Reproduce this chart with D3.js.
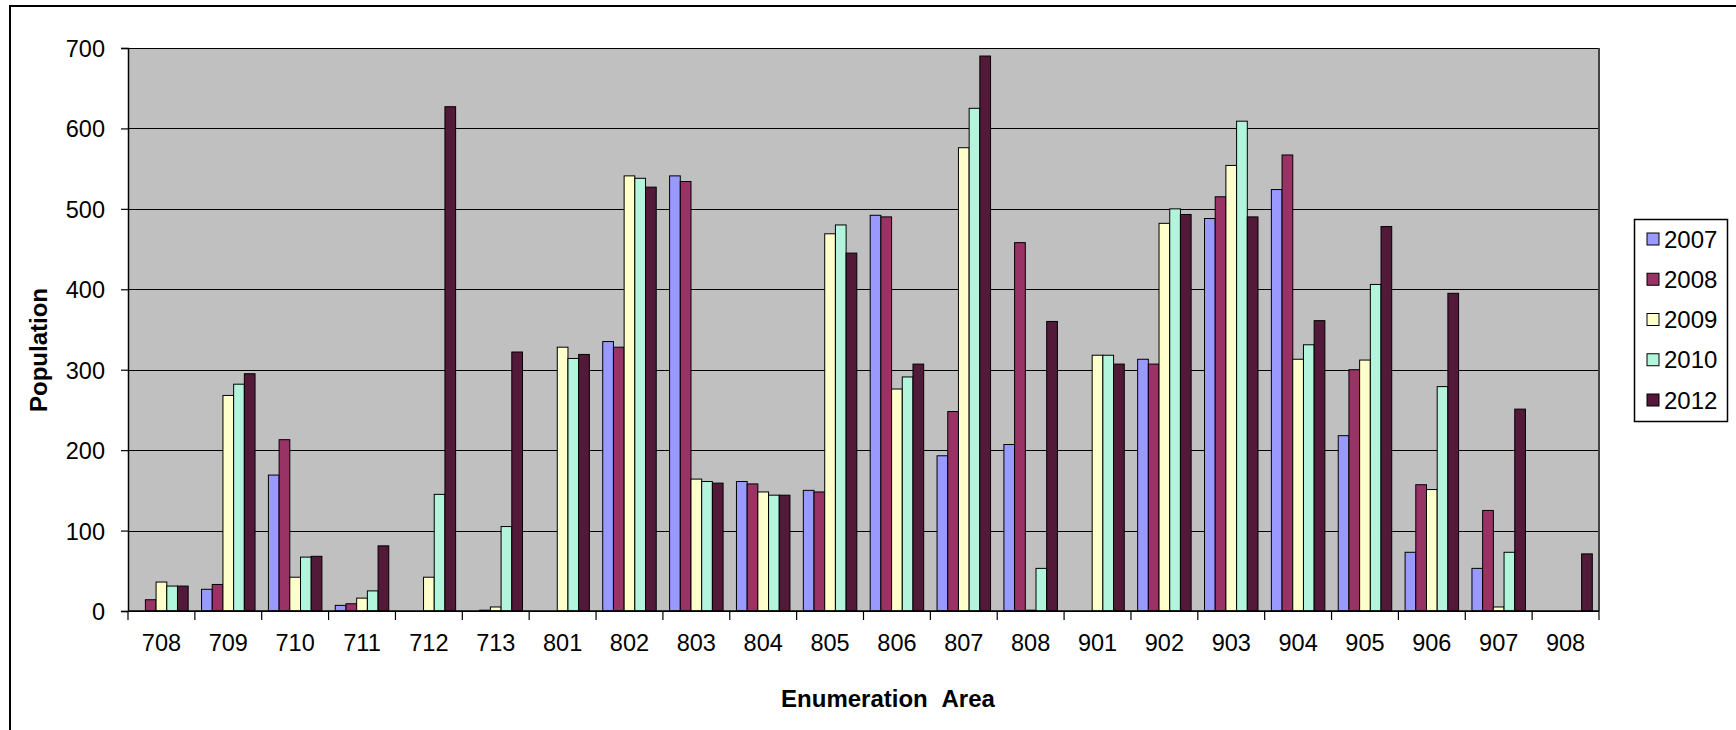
<!DOCTYPE html>
<html>
<head>
<meta charset="utf-8">
<script src="https://cdn.jsdelivr.net/npm/d3@7"></script>
<style>
  html, body { margin: 0; padding: 0; background: #fff; }
  svg { display: block; font-family: "Liberation Sans", Arial, sans-serif; }
</style>
</head>
<body>
<svg id="chart" width="1736" height="730"></svg>
<script>
const categories = ['708','709','710','711','712','713','801','802','803','804','805','806','807','808','901','902','903','904','905','906','907','908'];
const seriesNames = ['2007','2008','2009','2010','2012'];
const v2007 = [0, 27, 169, 7, 0, 0, 0, 335, 541, 161, 150, 492, 193, 207, 0, 313, 488, 524, 218, 73, 53, 0];
const v2008 = [14, 33, 213, 9, 0, 1, 0, 328, 534, 158, 148, 490, 248, 458, 0, 307, 515, 567, 300, 157, 125, 0];
const v2009 = [36, 268, 42, 16, 42, 5, 328, 541, 164, 148, 469, 276, 576, 1, 318, 482, 554, 313, 312, 151, 5, 0];
const v2010 = [31, 282, 67, 25, 145, 105, 314, 538, 161, 144, 480, 291, 625, 53, 318, 500, 609, 331, 406, 279, 73, 0];
const v2012 = [31, 295, 68, 81, 627, 322, 319, 527, 159, 144, 445, 307, 690, 360, 307, 493, 490, 361, 478, 395, 251, 71];
const yTicks = [0, 100, 200, 300, 400, 500, 600, 700];
const colors = ['#9999FF', '#993366', '#FFFFCC', '#B3F5DC', '#521A38'];

const seriesValues = [v2007, v2008, v2009, v2010, v2012];

const svg = d3.select('#chart');
const L = 128, R = 1599, T = 48, B = 611;

// outer chart border
svg.append('rect').attr('x', 10).attr('y', 6).attr('width', 1760).attr('height', 760)
  .attr('fill', '#fff').attr('stroke', '#000').attr('stroke-width', 2);

const x = d3.scaleBand().domain(categories).range([L, R]).paddingInner(0).paddingOuter(0);
const gw = x.bandwidth();
const barW = gw / 6.25;
const xs = d3.scaleBand().domain(seriesNames).range([barW * 0.625, gw - barW * 0.625]).padding(0);
const y = d3.scaleLinear().domain([0, 700]).range([B, T]);

// plot area
svg.append('rect').attr('x', L).attr('y', T).attr('width', R - L).attr('height', B - T)
  .attr('fill', '#C0C0C0');

// gridlines
svg.append('g').selectAll('line').data(yTicks).join('line')
  .attr('x1', L).attr('x2', R)
  .attr('y1', d => Math.round(y(d)) + 0.5).attr('y2', d => Math.round(y(d)) + 0.5)
  .attr('stroke', '#000').attr('stroke-width', 1.2);

// right plot border
svg.append('line').attr('x1', R).attr('x2', R).attr('y1', T).attr('y2', B)
  .attr('stroke', '#444').attr('stroke-width', 2);

// bars
const groups = svg.append('g').selectAll('g').data(categories).join('g')
  .attr('transform', d => `translate(${x(d)},0)`);
groups.selectAll('rect')
  .data((c, i) => seriesNames.map((s, k) => ({ s, k, v: seriesValues[k][i] })).filter(d => d.v > 0))
  .join('rect')
  .attr('x', d => xs(d.s))
  .attr('width', xs.bandwidth())
  .attr('y', d => y(d.v))
  .attr('height', d => y(0) - y(d.v))
  .attr('fill', d => colors[d.k])
  .attr('stroke', '#000').attr('stroke-width', 1);

// y axis
const yAxis = d3.axisLeft(y).tickValues(yTicks).tickSize(7).tickPadding(16).tickFormat(d3.format('d'));
const gy = svg.append('g').attr('transform', `translate(${L},0)`).call(yAxis);
gy.select('.domain').attr('stroke', '#000').attr('stroke-width', 1.5);
gy.selectAll('.tick line').attr('stroke', '#000').attr('stroke-width', 1.2);
gy.selectAll('.tick text').attr('font-size', '23.5px').attr('fill', '#000')
  .attr('font-family', '"Liberation Sans", Arial, sans-serif').attr('dy', '0.36em');

// x axis with ticks at category boundaries
const xAxisG = svg.append('g').attr('transform', `translate(0,${B})`);
xAxisG.append('line').attr('x1', L).attr('x2', R).attr('y1', 0).attr('y2', 0)
  .attr('stroke', '#000').attr('stroke-width', 1.5);
const boundaries = categories.map(c => x(c)).concat([x(categories[categories.length - 1]) + gw]);
xAxisG.selectAll('line.tk').data(boundaries).join('line').attr('class', 'tk')
  .attr('x1', d => d).attr('x2', d => d).attr('y1', 0).attr('y2', 9)
  .attr('stroke', '#000').attr('stroke-width', 1.2);
xAxisG.selectAll('text').data(categories).join('text')
  .attr('x', d => x(d) + gw / 2).attr('y', 40)
  .attr('text-anchor', 'middle').attr('font-size', '23.5px').attr('fill', '#000')
  .text(d => d);

// axis titles
svg.append('text').attr('x', 888).attr('y', 707).attr('text-anchor', 'middle')
  .attr('font-size', '24px').attr('font-weight', 'bold').attr('word-spacing', '8px')
  .attr('fill', '#000').text('Enumeration Area');
svg.append('text').attr('transform', 'translate(47,350) rotate(-90)').attr('text-anchor', 'middle')
  .attr('font-size', '24px').attr('font-weight', 'bold').attr('fill', '#000').text('Population');

// legend
const lg = svg.append('g');
lg.append('rect').attr('x', 1634.5).attr('y', 219.5).attr('width', 93).attr('height', 202)
  .attr('fill', '#fff').attr('stroke', '#000').attr('stroke-width', 1.5);
const ly = d3.scalePoint().domain(seriesNames).range([239, 400]);
const items = lg.selectAll('g').data(seriesNames).join('g')
  .attr('transform', d => `translate(0,${ly(d)})`);
items.append('rect').attr('x', 1647).attr('y', -6).attr('width', 12).attr('height', 12)
  .attr('fill', (d, i) => colors[i]).attr('stroke', '#000').attr('stroke-width', 1);
items.append('text').attr('x', 1664).attr('y', 8.6).attr('font-size', '24px').attr('fill', '#000')
  .text(d => d);
</script>
</body>
</html>
